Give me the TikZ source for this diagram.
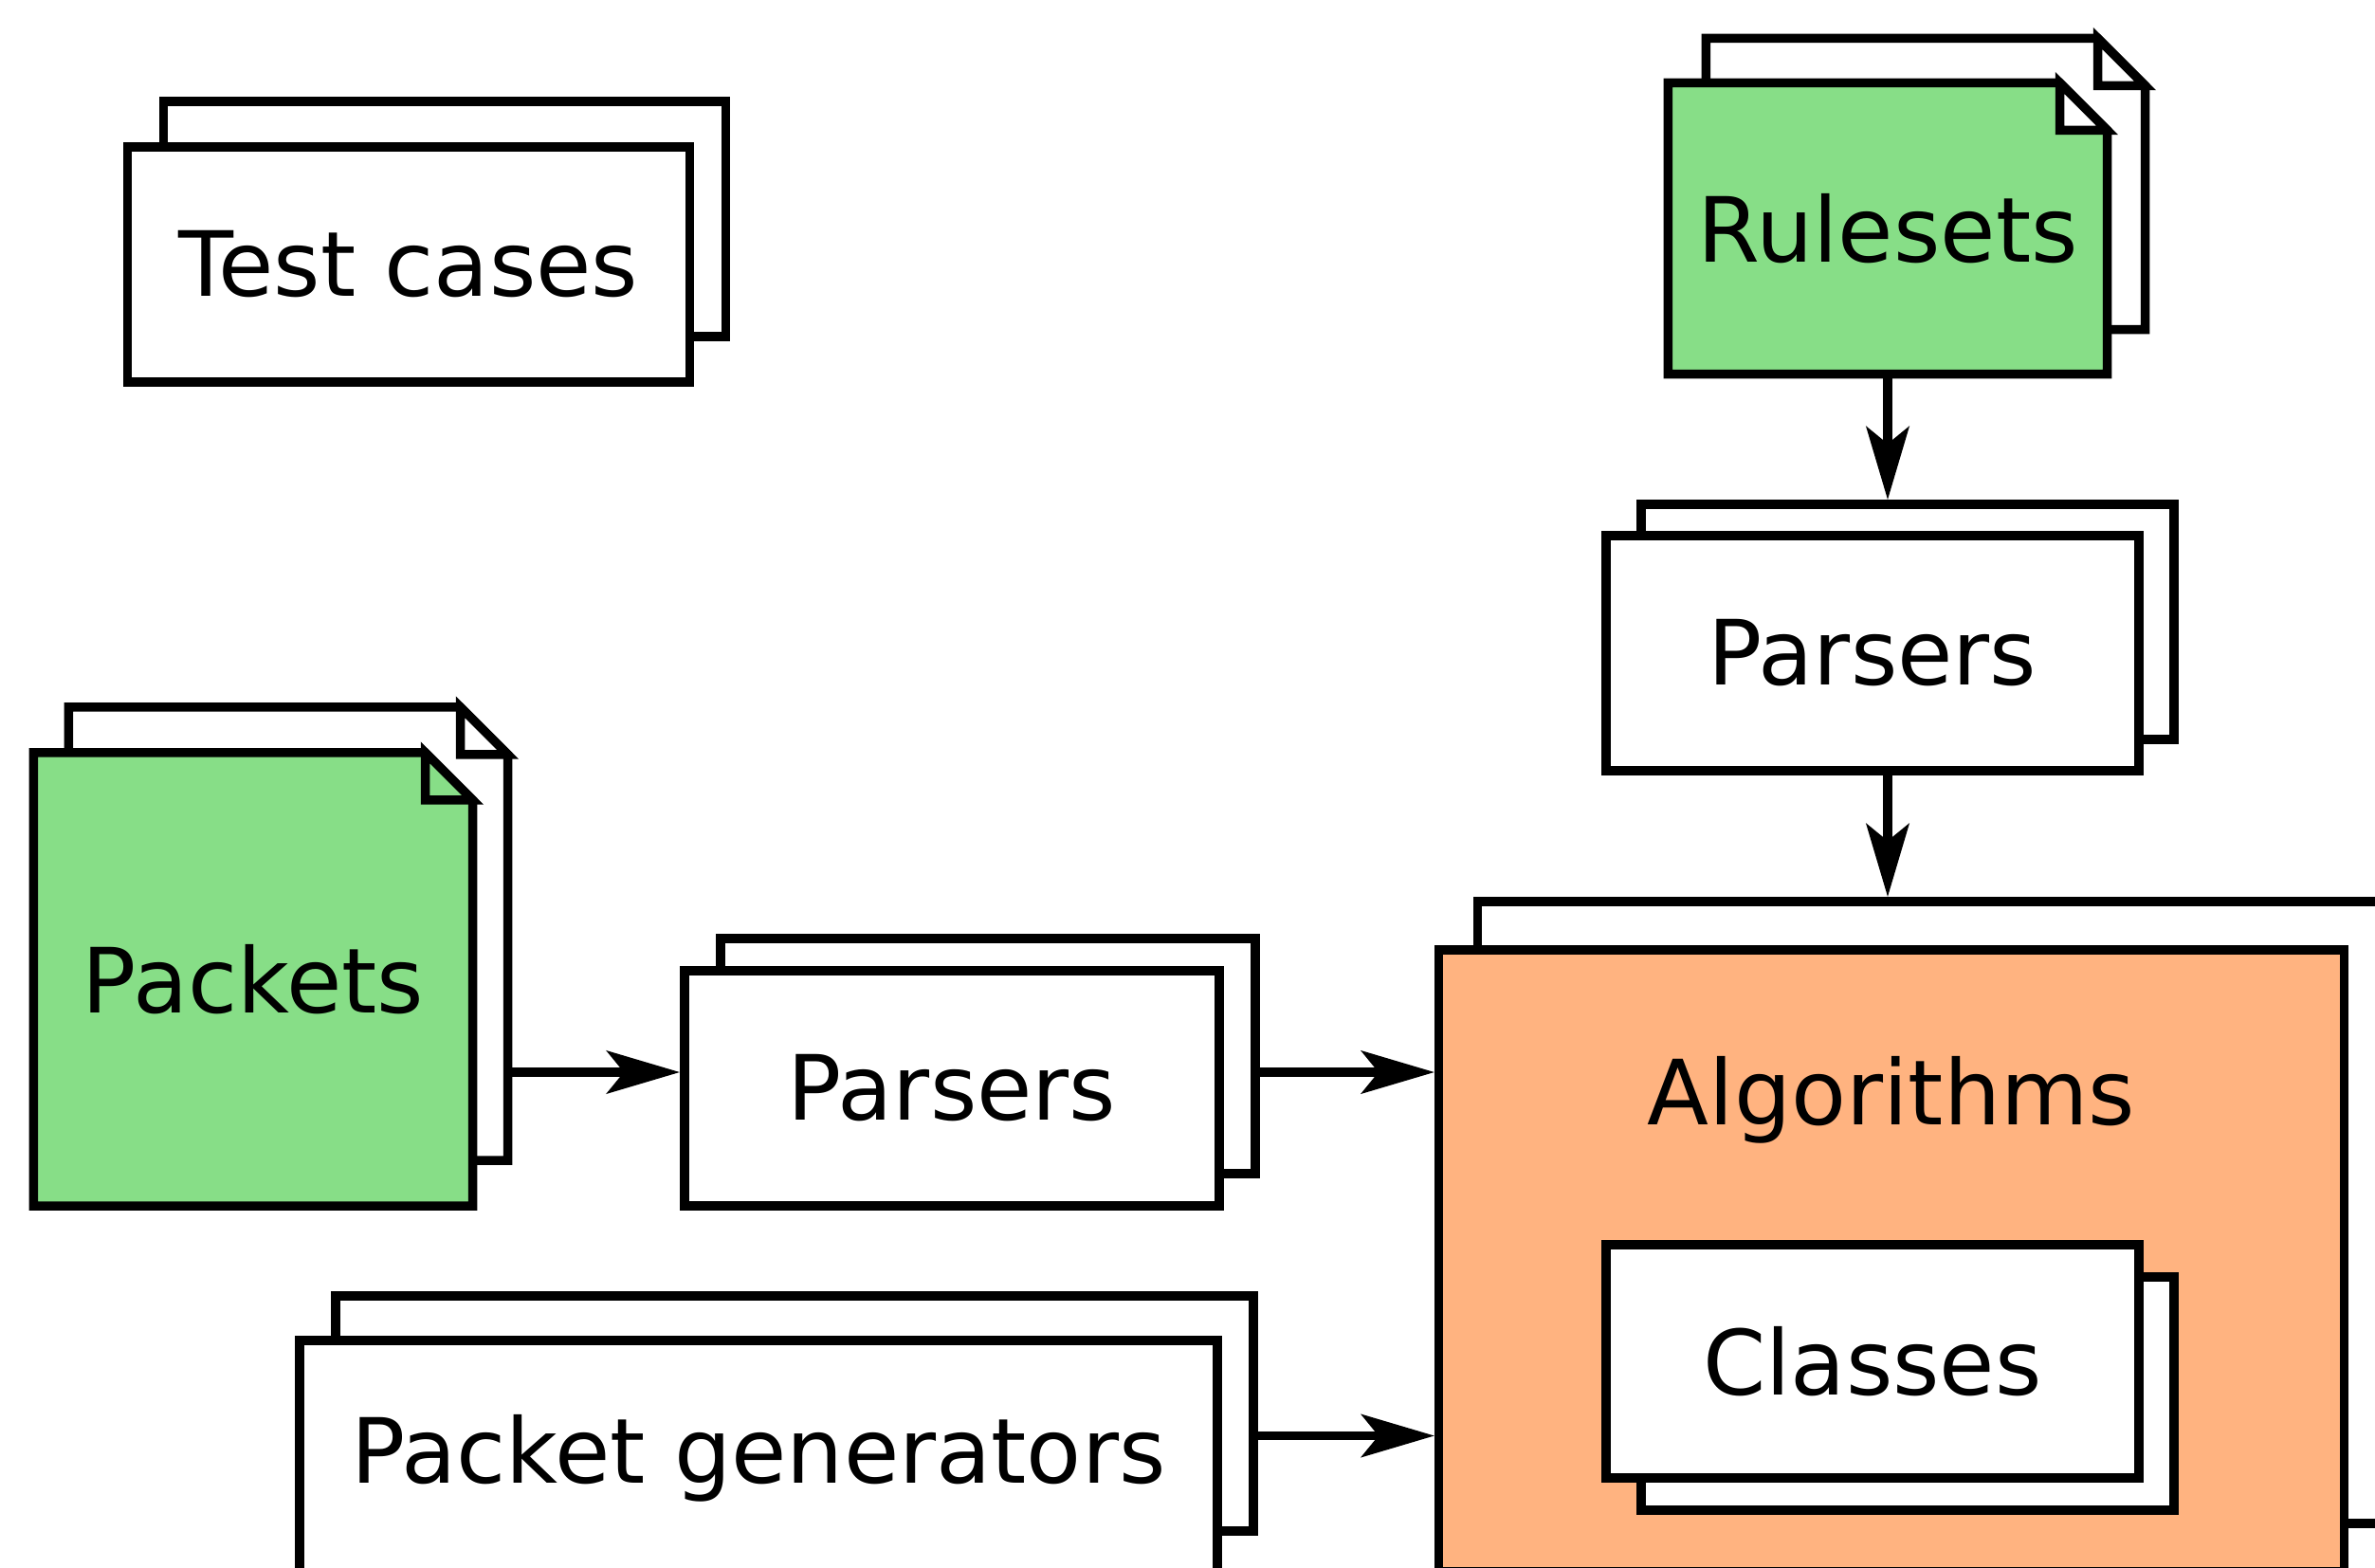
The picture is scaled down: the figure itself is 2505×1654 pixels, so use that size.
\documentclass[tikz,border=0pt]{standalone}
\usepackage{fontspec}
\setmainfont{DejaVu Sans}
\usepackage{xcolor}
\usepackage{tikz}
\usetikzlibrary{calc,backgrounds,arrows.meta}

\definecolor{pagegreen}{HTML}{87DE87}
\definecolor{algoorange}{HTML}{FFB380}

\def\foldsize{0.5cm}
% page with a folded corner round a node: #1 node, #2 body fill, #3 corner fill
\newcommand\foldpage[3]{%
	\draw[pageline, fill=#2] (#1.north west) -- ([xshift=-\foldsize]#1.north east)
		-- ([yshift=-\foldsize]#1.north east) -- (#1.south east) -- (#1.south west) -- cycle;
	\draw[pageline, fill=#3] ([xshift=-\foldsize]#1.north east)
		-- ([xshift=-\foldsize,yshift=-\foldsize]#1.north east)
		-- ([yshift=-\foldsize]#1.north east) -- cycle;
}

\begin{document}
\begin{tikzpicture}[x=0.01cm,y=-0.01cm,
	every node/.style={font=\fontsize{27}{32}\selectfont},
	box/.style={draw, line width=2.7pt, fill=white, inner sep=0pt},
	page/.style={inner sep=0pt, outer sep=0pt},
	pageline/.style={line width=2.7pt},
	flow/.style={line width=2.6pt, -{Stealth[length=0.77cm,width=0.45cm,inset=0.18cm]}}]
	\useasboundingbox (0,0) rectangle (2505,1654);
	
	% test cases
	\node[box, minimum width=5.93cm, minimum height=2.48cm] (testB) at (469,231) {};
	\node[box, minimum width=5.93cm, minimum height=2.48cm] (test) at (431,279) {Test cases};
	
	% rulesets
	\node[page, minimum width=4.63cm, minimum height=3.07cm] (rulesB) at (2031,194) {};
	\node[page, minimum width=4.63cm, minimum height=3.07cm] (rules) at (1991,241) {Rulesets};
	
	% parsers (top)
	\node[box, minimum width=5.62cm, minimum height=2.48cm] (parsTB) at (2012,656) {};
	\node[box, minimum width=5.62cm, minimum height=2.48cm] (parsT) at (1975,689) {Parsers};
	
	% packets
	\node[page, minimum width=4.63cm, minimum height=4.78cm] (packB) at (304,985) {};
	\node[page, minimum width=4.63cm, minimum height=4.78cm] (pack) at (267,1033) {Packets};
	
	% parsers (left)
	\node[box, minimum width=5.64cm, minimum height=2.48cm] (parsLB) at (1042,1114) {};
	\node[box, minimum width=5.64cm, minimum height=2.48cm] (parsL) at (1004,1148) {Parsers};
	
	% packet generators
	\node[box, minimum width=9.67cm, minimum height=2.48cm] (genB) at (838,1491) {};
	\node[box, minimum width=9.67cm, minimum height=2.48cm] (gen) at (800,1538) {Packet generators};
	
	% algorithms
	\node[box, minimum width=9.54cm, minimum height=6.56cm] (algoB) at (2036,1279) {};
	\node[box, fill=algoorange, minimum width=9.54cm, minimum height=6.56cm] (algo) at (1995,1330) {};
	\node (algoT) at (1995,1160) {Algorithms};
	\node[box, minimum width=5.62cm, minimum height=2.46cm] (clsB) at (2012,1470) {};
	\node[box, minimum width=5.62cm, minimum height=2.46cm] (cls) at (1975,1436) {Classes};
	
	\begin{scope}[on background layer]
		\foldpage{rulesB}{white}{white}
		\foldpage{rules}{pagegreen}{white}
		\foldpage{packB}{white}{white}
		\foldpage{pack}{pagegreen}{pagegreen}
	\end{scope}
	
	\coordinate (parsLmid) at ($(parsL.center)!.5!(parsLB.center)$);
	\coordinate (genmid) at ($(gen.center)!.5!(genB.center)$);
	
	\draw[flow] (rules.south) -- (rules.south |- parsTB.north);
	\draw[flow] (rules.south |- parsT.south) -- (rules.south |- algoB.north);
	\draw[flow] (packB.east |- parsLmid) -- (parsL.west |- parsLmid);
	\draw[flow] (parsLB.east |- parsLmid) -- (algo.west |- parsLmid);
	\draw[flow] (genB.east |- genmid) -- (algo.west |- genmid);
\end{tikzpicture}
\end{document}
